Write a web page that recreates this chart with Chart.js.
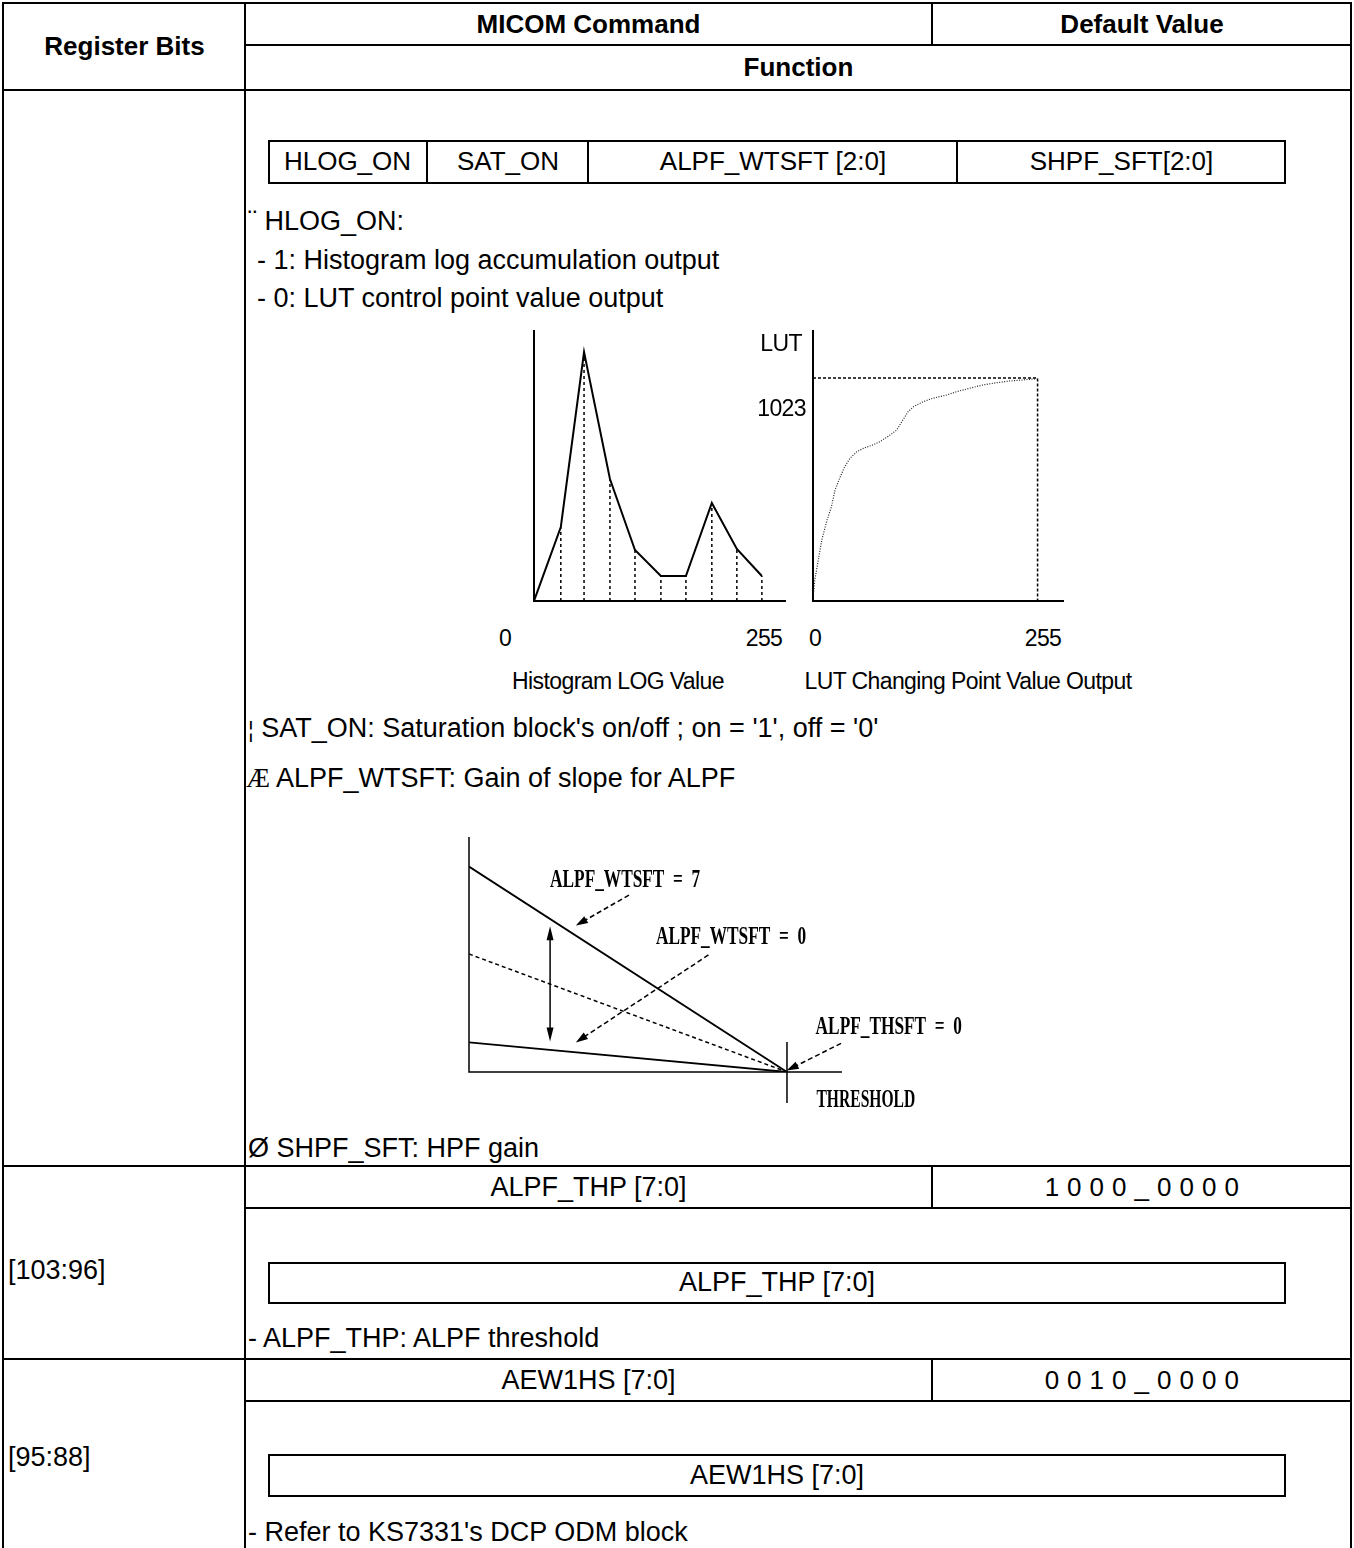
<!DOCTYPE html>
<html>
<head>
<meta charset="utf-8">
<script src="https://cdn.jsdelivr.net/npm/chart.js@4.4.0/dist/chart.umd.min.js"></script>
<style>
html, body { margin: 0; padding: 0; background: #fff; }
body { width: 1354px; height: 1548px; position: relative; overflow: hidden; font-family: 'Liberation Sans', Arial, sans-serif; color: #000; }
.ln { position: absolute; background: #000; }
.t { position: absolute; white-space: pre; font-size: 27px; line-height: 32px; height: 32px; }
.c { text-align: center; }
.b { font-weight: bold; font-size: 26px; }
.dv { letter-spacing: 0.4px; font-size: 26px; }
.box { position: absolute; border: 2px solid #000; box-sizing: border-box; }
.lab { position: absolute; white-space: pre; font-size: 23px; line-height: 26px; letter-spacing: -0.6px; }
canvas { position: absolute; }
</style>
</head>
<body>
<!-- table rules -->
<div class="ln" style="left:2px;top:2px;width:1350px;height:2px"></div>
<div class="ln" style="left:2px;top:2px;width:2px;height:1546px"></div>
<div class="ln" style="left:1350px;top:2px;width:2px;height:1546px"></div>
<div class="ln" style="left:244px;top:2px;width:2px;height:1546px"></div>
<div class="ln" style="left:245px;top:44px;width:1106px;height:2px"></div>
<div class="ln" style="left:931px;top:2px;width:2px;height:43px"></div>
<div class="ln" style="left:2px;top:89px;width:1350px;height:2px"></div>
<div class="ln" style="left:2px;top:1165px;width:1350px;height:2px"></div>
<div class="ln" style="left:245px;top:1207px;width:1106px;height:2px"></div>
<div class="ln" style="left:931px;top:1166px;width:2px;height:42px"></div>
<div class="ln" style="left:2px;top:1358px;width:1350px;height:2px"></div>
<div class="ln" style="left:245px;top:1400px;width:1106px;height:2px"></div>
<div class="ln" style="left:931px;top:1359px;width:2px;height:42px"></div>

<!-- header -->
<div class="t c b" style="left:4px;width:241px;top:30px">Register Bits</div>
<div class="t c b" style="left:246px;width:685px;top:8px">MICOM Command</div>
<div class="t c b" style="left:933px;width:418px;top:8px">Default Value</div>
<div class="t c b" style="left:246px;width:1105px;top:51px">Function</div>

<!-- register field box -->
<div class="box" style="left:268px;top:140px;width:1018px;height:44px"></div>
<div class="ln" style="left:426px;top:140px;width:2px;height:44px"></div>
<div class="ln" style="left:587px;top:140px;width:2px;height:44px"></div>
<div class="ln" style="left:956px;top:140px;width:2px;height:44px"></div>
<div class="t c" style="left:268px;width:159px;top:145px;font-size:26px">HLOG_ON</div>
<div class="t c" style="left:428px;width:160px;top:145px;font-size:26px">SAT_ON</div>
<div class="t c" style="left:589px;width:368px;top:145px;font-size:26px">ALPF_WTSFT [2:0]</div>
<div class="t c" style="left:958px;width:327px;top:145px;font-size:26px">SHPF_SFT[2:0]</div>

<div class="t" style="left:248px;top:205px">¨ HLOG_ON:</div>
<div class="t" style="left:257px;top:244px">- 1: Histogram log accumulation output</div>
<div class="t" style="left:257px;top:282px">- 0: LUT control point value output</div>

<canvas id="histChart" width="272" height="291" style="left:524px;top:320px"></canvas>
<canvas id="lutChart" width="271" height="291" style="left:803px;top:320px"></canvas>
<div class="lab" id="histT0" style="left:490px;width:30px;top:625px;text-align:center"></div>
<div class="lab" id="histT1" style="left:737px;width:54px;top:625px;text-align:center"></div>
<div class="lab" id="lutT0" style="left:800px;width:30px;top:625px;text-align:center"></div>
<div class="lab" id="lutT1" style="left:1016px;width:54px;top:625px;text-align:center"></div>
<div class="lab" style="left:460px;width:316px;top:668px;text-align:center">Histogram LOG Value</div>
<div class="lab" style="left:768px;width:400px;top:668px;text-align:center">LUT Changing Point Value Output</div>
<div class="lab" style="left:730px;width:72px;top:330px;text-align:right">LUT</div>
<div class="lab" id="lutMaxLab" style="left:730px;width:76px;top:395px;text-align:right"></div>

<div class="t" style="left:248px;top:712px"><span style="font-size:22px">¦</span> SAT_ON: Saturation block's on/off ; on = '1', off = '0'</div>
<div class="t" style="left:246px;top:762px"><span style="font-family:'Liberation Serif'">Æ</span> ALPF_WTSFT: Gain of slope for ALPF</div>

<canvas id="alpfChart" width="530" height="290" style="left:455px;top:827px"></canvas>

<div class="t" style="left:248px;top:1132px">Ø SHPF_SFT: HPF gain</div>

<!-- [103:96] -->
<div class="t c" style="left:246px;width:685px;top:1171px">ALPF_THP [7:0]</div>
<div class="t c dv" style="left:933px;width:418px;top:1171px">1 0 0 0 _ 0 0 0 0</div>
<div class="t" style="left:8px;top:1254px">[103:96]</div>
<div class="box" style="left:268px;top:1262px;width:1018px;height:42px"></div>
<div class="t c" style="left:268px;width:1018px;top:1266px">ALPF_THP [7:0]</div>
<div class="t" style="left:248px;top:1322px">- ALPF_THP: ALPF threshold</div>

<!-- [95:88] -->
<div class="t c" style="left:246px;width:685px;top:1364px">AEW1HS [7:0]</div>
<div class="t c dv" style="left:933px;width:418px;top:1364px">0 0 1 0 _ 0 0 0 0</div>
<div class="t" style="left:8px;top:1441px">[95:88]</div>
<div class="box" style="left:268px;top:1454px;width:1018px;height:43px"></div>
<div class="t c" style="left:268px;width:1018px;top:1459px">AEW1HS [7:0]</div>
<div class="t" style="left:248px;top:1516px">- Refer to KS7331's DCP ODM block</div>

<script>
// histogram log accumulation (HLOG_ON = 1)
const histBins = [0, 30, 56, 85, 113, 142, 170, 199, 227, 255];
const histCounts = [0, 74, 249, 122, 51, 25, 25, 98, 52, 25];
const histTicks = ['0', '255'];

// LUT control point output (HLOG_ON = 0)
const lutIn = [0, 2, 6, 10, 16, 21, 25, 31, 36, 42, 50, 57, 68, 76, 85, 95, 102, 108, 114, 125, 136, 152, 163, 178, 193, 208, 223, 239, 254];
const lutOut = [10, 96, 188, 280, 372, 433, 509, 570, 616, 655, 685, 700, 716, 731, 754, 784, 830, 868, 891, 914, 930, 945, 960, 976, 991, 1001, 1009, 1014, 1020];
const lutMax = 1023;
const lutEnd = 255;
const lutTicks = ['0', '255'];

// ALPF slope vs threshold
const alpfThreshold = 100;
const alpfGain = [87.4, 50.2, 12.6];   // WTSFT = 7 (solid), middle (dashed), WTSFT = 0 (solid)
const alpfRange = [13, 62];            // double arrow span
const alpfNames = ['ALPF_WTSFT = 7', 'ALPF_WTSFT = 0', 'ALPF_THSFT = 0'];
const alpfNameAt = [[49.1, 81.7], [82.4, 57.4], [132, 19]];
const alpfArrowFrom = [[50.3, 75.3], [75.3, 49.8], [117, 12.2]];
const alpfArrowTo = [[33.6, 62.3], [33.6, 12.6], [99.9, 0.6]];

document.getElementById('histT0').textContent = histTicks[0];
document.getElementById('histT1').textContent = histTicks[1];
document.getElementById('lutT0').textContent = lutTicks[0];
document.getElementById('lutT1').textContent = lutTicks[1];
document.getElementById('lutMaxLab').textContent = String(lutMax);

const axesPlugin = {
    id: 'axes',
    beforeDatasetsDraw(chart, args, opts) {
        const { ctx, chartArea: a, scales: { x, y } } = chart;
        const x0 = x.getPixelForValue(0);
        const y0 = y.getPixelForValue(0);
        ctx.save();
        ctx.strokeStyle = '#000';
        ctx.lineWidth = opts.width || 2;
        ctx.beginPath();
        ctx.moveTo(x0, a.top);
        ctx.lineTo(x0, y0);
        ctx.lineTo(a.right, y0);
        ctx.stroke();
        ctx.restore();
    }
};

function arrowHead(ctx, fx, fy, tx, ty, len, half) {
    const ang = Math.atan2(ty - fy, tx - fx);
    ctx.beginPath();
    ctx.moveTo(tx, ty);
    ctx.lineTo(tx - len * Math.cos(ang) + half * Math.sin(ang), ty - len * Math.sin(ang) - half * Math.cos(ang));
    ctx.lineTo(tx - len * Math.cos(ang) - half * Math.sin(ang), ty - len * Math.sin(ang) + half * Math.cos(ang));
    ctx.closePath();
    ctx.fill();
}

const notesPlugin = {
    id: 'notes',
    afterDatasetsDraw(chart) {
        const { ctx, scales: { x, y } } = chart;
        ctx.save();
        ctx.fillStyle = '#000';
        ctx.strokeStyle = '#000';

        // double arrow between the two gains
        const ax = x.getPixelForValue(25.5);
        const ay1 = y.getPixelForValue(alpfRange[1]);
        const ay2 = y.getPixelForValue(alpfRange[0]);
        ctx.lineWidth = 1.5;
        ctx.beginPath();
        ctx.moveTo(ax, ay1 + 8);
        ctx.lineTo(ax, ay2 - 8);
        ctx.stroke();
        arrowHead(ctx, ax, ay2, ax, ay1, 14, 3.5);
        arrowHead(ctx, ax, ay1, ax, ay2, 14, 3.5);

        // dashed pointer arrows
        ctx.setLineDash([5, 3]);
        alpfArrowFrom.forEach((f, i) => {
            const fx = x.getPixelForValue(f[0]), fy = y.getPixelForValue(f[1]);
            const tx = x.getPixelForValue(alpfArrowTo[i][0]), ty = y.getPixelForValue(alpfArrowTo[i][1]);
            const ang = Math.atan2(ty - fy, tx - fx);
            ctx.beginPath();
            ctx.moveTo(fx, fy);
            ctx.lineTo(tx - 10 * Math.cos(ang), ty - 10 * Math.sin(ang));
            ctx.stroke();
        });
        ctx.setLineDash([]);
        alpfArrowFrom.forEach((f, i) => {
            arrowHead(ctx, x.getPixelForValue(f[0]), y.getPixelForValue(f[1]),
                x.getPixelForValue(alpfArrowTo[i][0]), y.getPixelForValue(alpfArrowTo[i][1]), 12, 4);
        });

        // labels (condensed bold serif)
        ctx.font = "bold 26px 'Liberation Serif'";
        ctx.textAlign = 'center';
        ctx.textBaseline = 'middle';
        const drawName = (txt, px, py, sx) => {
            ctx.save();
            ctx.translate(px, py);
            ctx.scale(sx, 1);
            ctx.fillText(txt, 0, 0);
            ctx.restore();
        };
        alpfNames.forEach((n, i) => {
            drawName(n.replace(/ = /, '  =  '), x.getPixelForValue(alpfNameAt[i][0]), y.getPixelForValue(alpfNameAt[i][1]), 0.665);
        });
        drawName('THRESHOLD', x.getPixelForValue(124.8), y.getPixelForValue(-11.9), 0.6);
        ctx.restore();
    }
};

function baseOptions(xmax, ymax, pad, axisWidth) {
    return {
        responsive: false,
        animation: false,
        events: [],
        layout: { padding: pad },
        plugins: {
            legend: { display: false },
            tooltip: { enabled: false },
            axes: { width: axisWidth }
        },
        scales: {
            x: { type: 'linear', display: false, min: 0, max: xmax },
            y: { type: 'linear', display: false, min: 0, max: ymax }
        },
        elements: { point: { radius: 0 }, line: { tension: 0 } }
    };
}

function seg(pts, extra) {
    return Object.assign({
        data: pts.map(p => ({ x: p[0], y: p[1] })),
        showLine: true,
        borderColor: '#000',
        borderWidth: 2,
        pointRadius: 0,
        fill: false
    }, extra || {});
}

// histogram
const histSets = [seg(histBins.map((b, i) => [b, histCounts[i]]))];
histBins.forEach((b, i) => {
    if (i > 0) histSets.push(seg([[b, 0], [b, histCounts[i]]], { borderWidth: 1.5, borderDash: [3, 3] }));
});
new Chart(document.getElementById('histChart').getContext('2d'), {
    type: 'scatter',
    data: { datasets: histSets },
    options: baseOptions(282, 271, 10, 2),
    plugins: [axesPlugin]
});

// LUT
new Chart(document.getElementById('lutChart').getContext('2d'), {
    type: 'scatter',
    data: {
        datasets: [
            seg([[0, lutMax], [lutEnd, lutMax], [lutEnd, 0]], { borderWidth: 1.5, borderDash: [3, 2] }),
            seg(lutIn.map((v, i) => [v, lutOut[i]]), { borderWidth: 1.2, borderDash: [1, 1.5], borderColor: '#222' })
        ]
    },
    options: baseOptions(285, 1243, 10, 2),
    plugins: [axesPlugin]
});

// ALPF
new Chart(document.getElementById('alpfChart').getContext('2d'), {
    type: 'scatter',
    data: {
        datasets: [
            seg([[0, alpfGain[0]], [alpfThreshold, 0]], { borderWidth: 1.8 }),
            seg([[0, alpfGain[1]], [alpfThreshold, 0]], { borderWidth: 1.5, borderDash: [4, 3] }),
            seg([[0, alpfGain[2]], [alpfThreshold, 0]], { borderWidth: 1.8 }),
            seg([[alpfThreshold, 12.8], [alpfThreshold, -13.2]], { borderWidth: 1.5, clip: false })
        ]
    },
    options: baseOptions(117.3, 100, { left: 14, top: 10, right: 143, bottom: 45 }, 1.5),
    plugins: [axesPlugin, notesPlugin]
});
</script>
</body>
</html>
